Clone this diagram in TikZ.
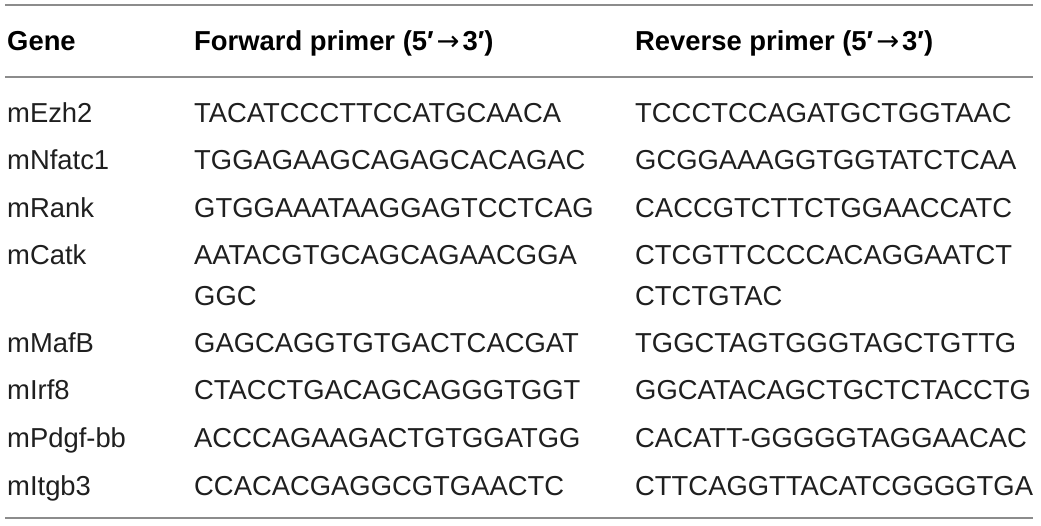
\documentclass[tikz,border=0pt]{standalone}
\usepackage{fontspec}
\setmainfont{Liberation Sans}
\newfontfamily\arrowfont{DejaVu Sans}
\newcommand{\primerarrow}{\kern3pt{\arrowfont\mdseries →}\kern3pt}
\begin{document}
\begin{tikzpicture}[x=1pt,y=1pt,
  cell/.style={anchor=base west,inner sep=0pt,text=black!88,font=\fontsize{27.4}{32}\selectfont},
  head/.style={anchor=base west,inner sep=0pt,text=black,font=\fontsize{27.4}{32}\selectfont\bfseries},
  rule/.style={draw=black!45,line width=1.6pt}]
\useasboundingbox (0,0) rectangle (1041,-525);
% rules
\coordinate (t1) at (5,-5);   \coordinate (t2) at (1033,-5);
\coordinate (m1) at (5,-77);  \coordinate (m2) at (1033,-77);
\coordinate (b1) at (5,-518); \coordinate (b2) at (1033,-518);
\draw[rule] (t1) -- (t2);
\draw[rule] (m1) -- (m2);
\draw[rule] (b1) -- (b2);
% header
\node[head] (h1) at (7,-50) {Gene};
\node[head] (h2) at (194,-50) {Forward primer (5′\primerarrow 3′)};
\node[head] (h3) at (635,-50) {Reverse primer (5′\primerarrow 3′)};
% rows
\node[cell] (g1) at (7,-122) {mEzh2};
\node[cell] (f1) at (194,-122) {TACATCCCTTCCATGCAACA};
\node[cell] (r1) at (635,-122) {TCCCTCCAGATGCTGGTAAC};
\node[cell] (g2) at (7,-169.5) {mNfatc1};
\node[cell] (f2) at (194,-169.5) {TGGAGAAGCAGAGCACAGAC};
\node[cell] (r2) at (635,-169.5) {GCGGAAAGGTGGTATCTCAA};
\node[cell] (g3) at (7,-217) {mRank};
\node[cell] (f3) at (194,-217) {GTGGAAATAAGGAGTCCTCAG};
\node[cell] (r3) at (635,-217) {CACCGTCTTCTGGAACCATC};
\node[cell] (g4) at (7,-264) {mCatk};
\node[cell] (f4) at (194,-264) {AATACGTGCAGCAGAACGGA};
\node[cell] (f4b) at (194,-305) {GGC};
\node[cell] (r4) at (635,-264) {CTCGTTCCCCACAGGAATCT};
\node[cell] (r4b) at (635,-305) {CTCTGTAC};
\node[cell] (g5) at (7,-352) {mMafB};
\node[cell] (f5) at (194,-352) {GAGCAGGTGTGACTCACGAT};
\node[cell] (r5) at (635,-352) {TGGCTAGTGGGTAGCTGTTG};
\node[cell] (g6) at (7,-399.5) {mIrf8};
\node[cell] (f6) at (194,-399.5) {CTACCTGACAGCAGGGTGGT};
\node[cell] (r6) at (635,-399.5) {GGCATACAGCTGCTCTACCTG};
\node[cell] (g7) at (7,-447) {mPdgf-bb};
\node[cell] (f7) at (194,-447) {ACCCAGAAGACTGTGGATGG};
\node[cell] (r7) at (635,-447) {CACATT-GGGGGTAGGAACAC};
\node[cell] (g8) at (7,-495) {mItgb3};
\node[cell] (f8) at (194,-495) {CCACACGAGGCGTGAACTC};
\node[cell] (r8) at (635,-495) {CTTCAGGTTACATCGGGGTGA};
\end{tikzpicture}
\end{document}
